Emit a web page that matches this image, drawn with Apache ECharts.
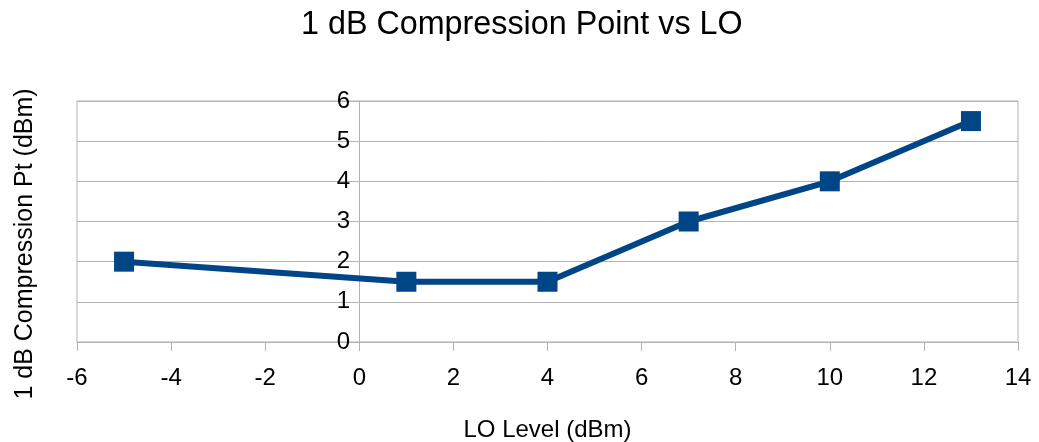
<!DOCTYPE html>
<html>
<head>
<meta charset="utf-8">
<script src="https://cdn.jsdelivr.net/npm/echarts@6/dist/echarts.min.js"></script>
<style>
html,body{margin:0;padding:0;background:#fff;}
#chart{width:1039px;height:442px;}
</style>
</head>
<body>
<div id="chart"></div>
<script>
const titleText = '1 dB Compression Point vs LO';
const xAxisName = 'LO Level (dBm)';
const yAxisName = '1 dB Compression Pt (dBm)';
const loLevel = [-5, 1, 4, 7, 10, 13];
const compressionPt = [2, 1.5, 1.5, 3, 4, 5.5];

const points = loLevel.map((x, i) => [x, compressionPt[i]]);
const font = '"Liberation Sans", Arial, sans-serif';
const gridColor = '#b3b3b3';

const chart = echarts.init(document.getElementById('chart'));
chart.setOption({
  animation: false,
  backgroundColor: '#ffffff',
  title: {
    text: titleText,
    left: 301,
    top: 9,
    padding: 0,
    textStyle: { fontFamily: font, fontSize: 32.3, fontWeight: 'normal', color: '#000' }
  },
  grid: {
    left: 77, right: 21, top: 101, bottom: 100,
    containLabel: false,
    outerBoundsMode: 'none',
    show: true, borderColor: gridColor, borderWidth: 1, backgroundColor: 'transparent'
  },
  xAxis: {
    type: 'value',
    min: -6, max: 14, interval: 2,
    name: xAxisName,
    nameLocation: 'middle',
    nameGap: 76,
    nameTextStyle: { fontFamily: font, fontSize: 24, color: '#000' },
    axisLine: { show: true, onZero: false, lineStyle: { color: gridColor, width: 1 } },
    axisTick: { show: true, length: 9, lineStyle: { color: gridColor } },
    axisLabel: { fontFamily: font, fontSize: 24, color: '#000', margin: 24 },
    splitLine: { show: false }
  },
  yAxis: {
    type: 'value',
    min: 0, max: 6, interval: 1,
    offset: -282,
    name: yAxisName,
    nameLocation: 'middle',
    nameGap: 321,
    nameTextStyle: { fontFamily: font, fontSize: 25, color: '#000', padding: [0, 45, 0, 0] },
    axisLine: { show: true, onZero: false, lineStyle: { color: gridColor, width: 1 } },
    axisTick: { show: true, length: 5, lineStyle: { color: gridColor } },
    axisLabel: { fontFamily: font, fontSize: 24, color: '#000', margin: 9 },
    splitLine: { show: true, lineStyle: { color: gridColor, width: 1 } }
  },
  series: [{
    type: 'line',
    data: points,
    symbol: 'rect',
    symbolSize: 20,
    color: '#004586',
    itemStyle: { color: '#004586' },
    lineStyle: { color: '#004586', width: 6 }
  }]
});
</script>
</body>
</html>
